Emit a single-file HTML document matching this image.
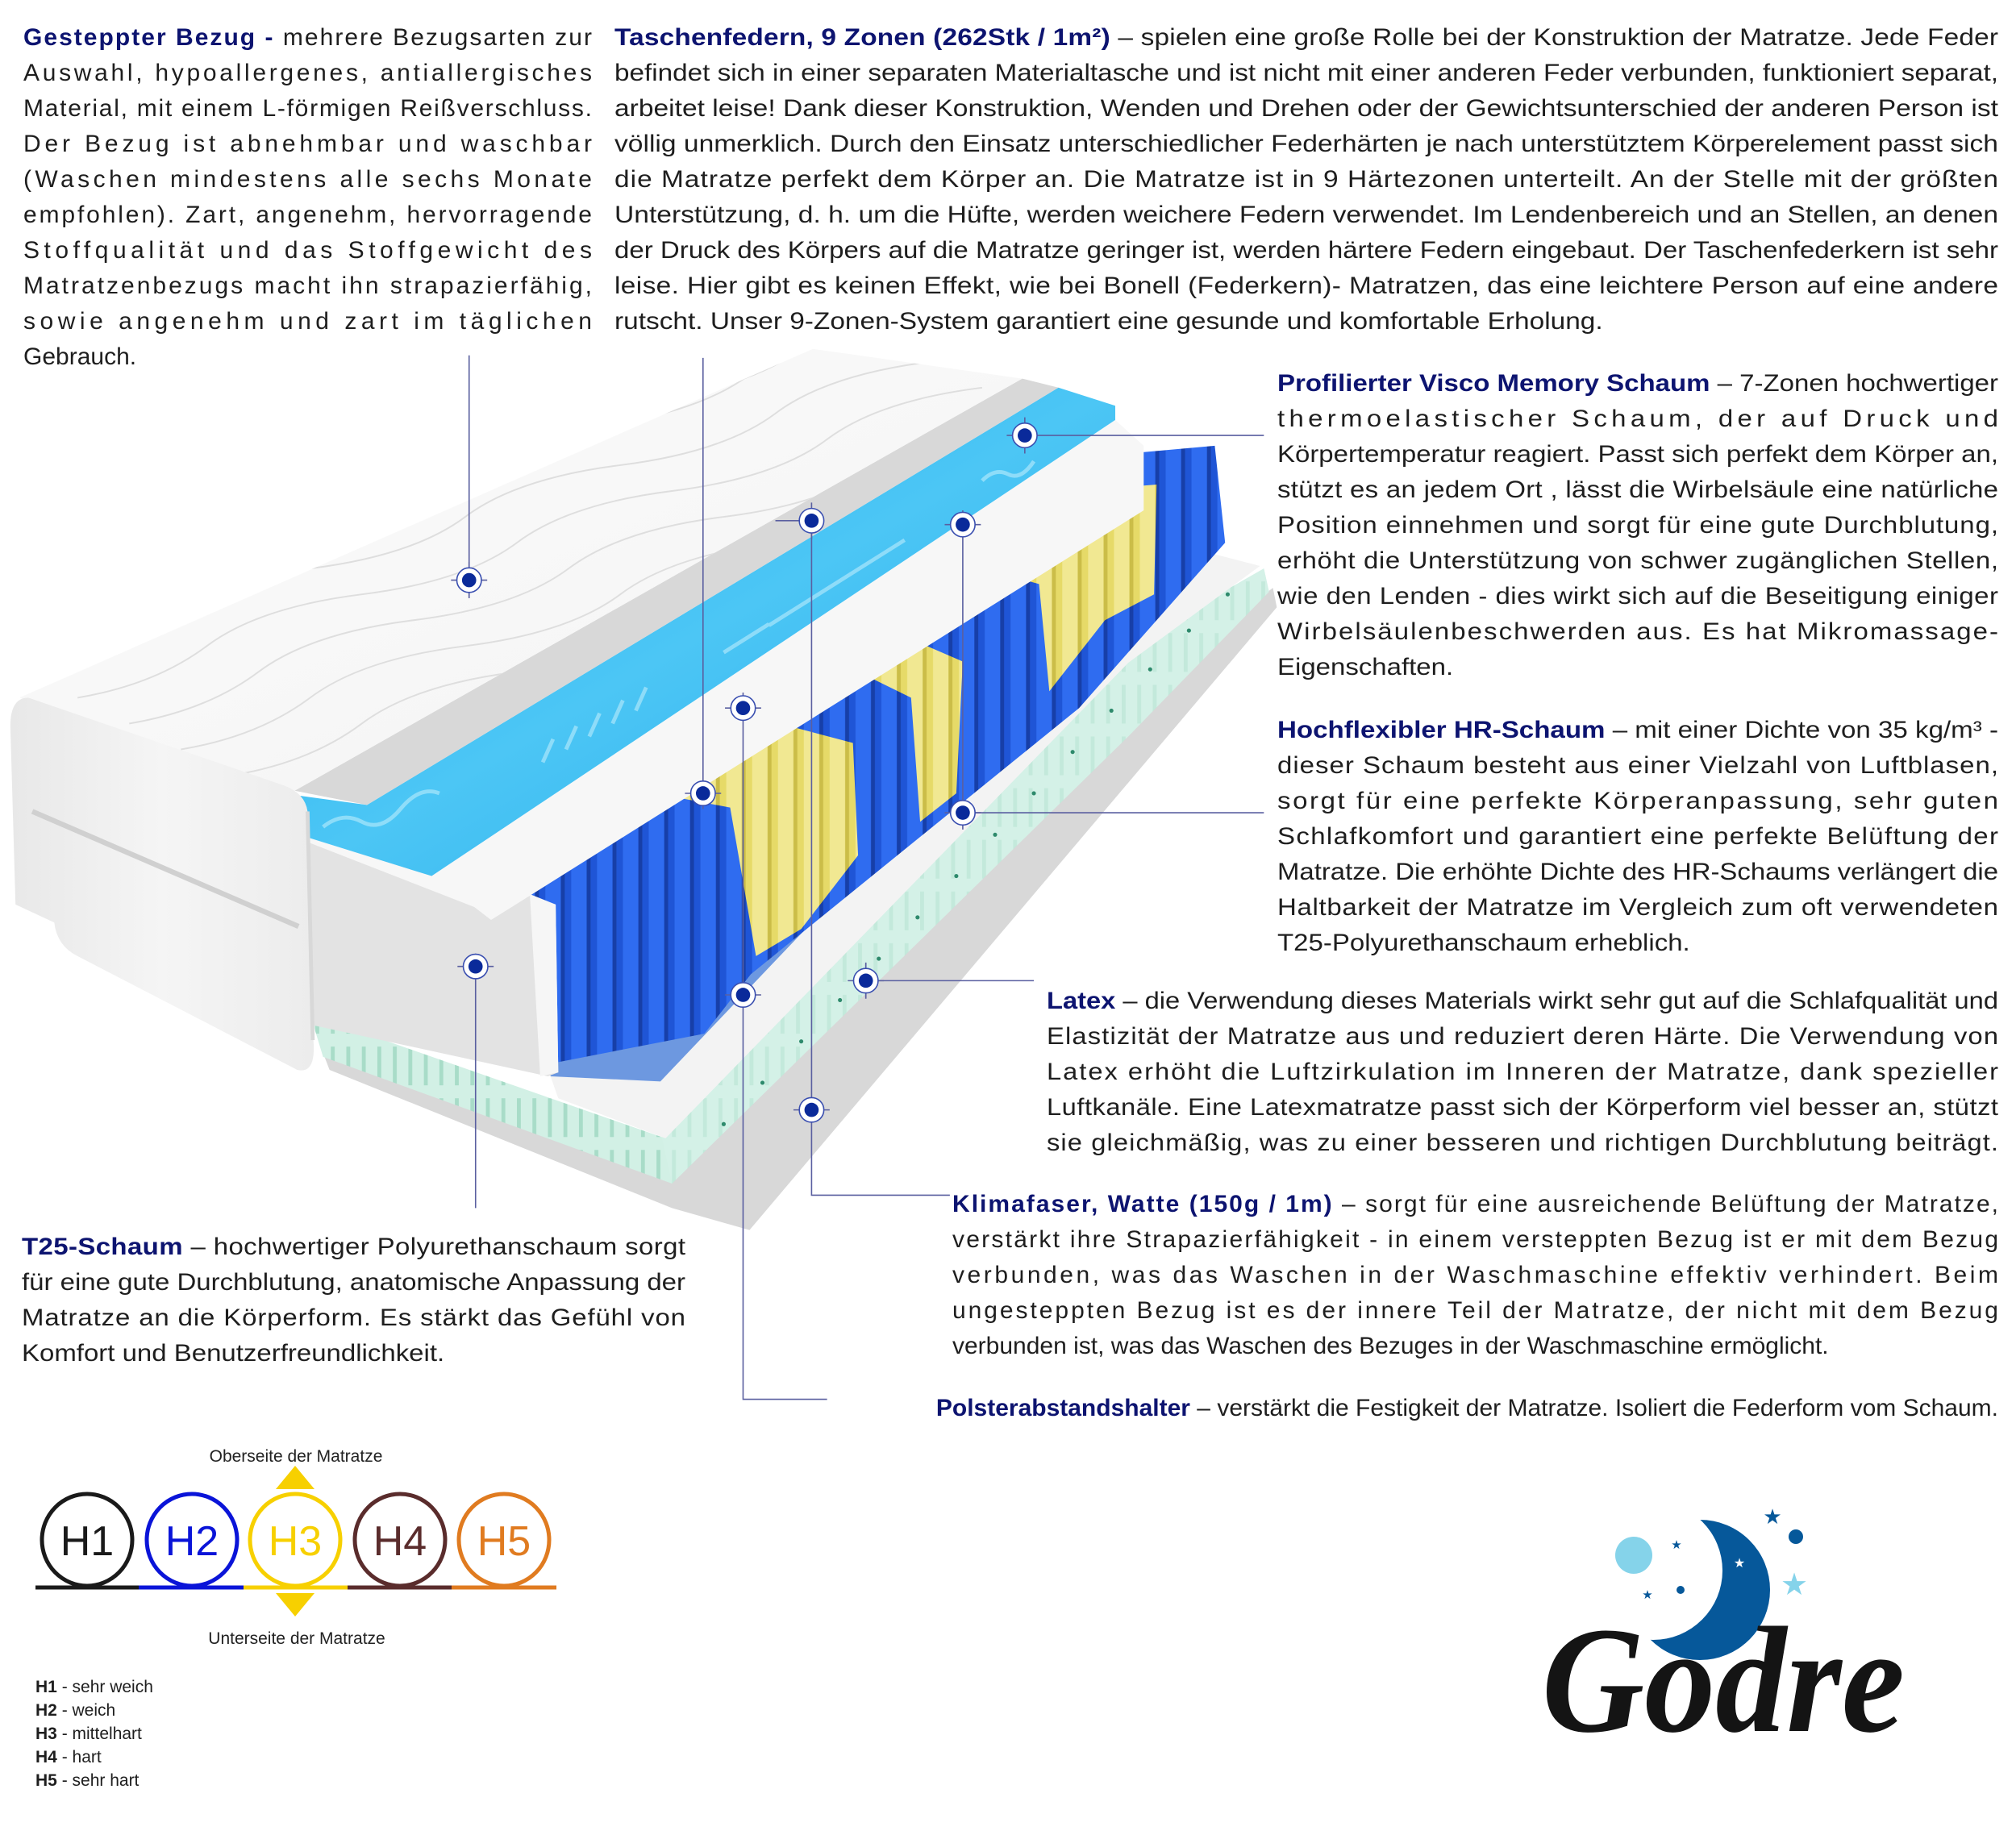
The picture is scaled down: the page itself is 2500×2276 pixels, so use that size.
<!DOCTYPE html>
<html><head><meta charset="utf-8">
<style>
*{margin:0;padding:0;box-sizing:border-box}
body{width:2500px;height:2276px;background:#fff;position:relative;overflow:hidden;font-family:"Liberation Sans",sans-serif;color:#1e1e1e}
.t{position:absolute;font-size:30px;line-height:44px}
.t div{height:44px;white-space:nowrap}
.t div span{display:inline-block;white-space:nowrap;transform-origin:0 50%}
.t b{color:#0d1470}
svg{position:absolute;left:0;top:0}
.leg{position:absolute;left:44px;font-size:21px;line-height:29px}
</style></head><body>
<svg width="2500" height="2276" viewBox="0 0 1560 1420.2">
<defs>
<linearGradient id="cov" x1="0" y1="0" x2="1" y2="1"><stop offset="0" stop-color="#fcfcfc"/><stop offset="1" stop-color="#f3f3f3"/></linearGradient>
<linearGradient id="end" x1="0" y1="0" x2="1" y2="0"><stop offset="0" stop-color="#e8e8e8"/><stop offset=".5" stop-color="#f5f5f5"/><stop offset="1" stop-color="#ececec"/></linearGradient>
<linearGradient id="vis" x1="0" y1="0" x2="1" y2="1"><stop offset="0" stop-color="#1fb0ef"/><stop offset=".5" stop-color="#4cc6f5"/><stop offset="1" stop-color="#22a8e8"/></linearGradient>
<pattern id="spr" width="20" height="40" patternUnits="userSpaceOnUse"><rect width="20" height="40" fill="#1f55d6"/><rect x="2" width="12" height="40" fill="#2f6cf0"/><rect x="14" width="3" height="40" fill="#173fa8"/></pattern>
<pattern id="yel" width="20" height="40" patternUnits="userSpaceOnUse"><rect width="20" height="40" fill="#e6da68"/><rect x="2" width="12" height="40" fill="#f1e892"/><rect x="14" width="3" height="40" fill="#cbbd48"/></pattern>
<pattern id="tee" width="12" height="40" patternUnits="userSpaceOnUse"><rect width="12" height="40" fill="#d2f0e5"/><rect x="4" y="10" width="3" height="30" fill="#a8dcc8"/></pattern>
<clipPath id="cc"><polygon points="15,540 629,270 791,293 228,612"/></clipPath>
</defs>
<!-- base -->
<polygon points="250,815 520,912 873,540 985,455 988,470 580,952 520,935 255,828" fill="#d8d8d8"/>
<!-- latex -->
<polygon points="240,785 512,880 873,500 978,440 982,458 873,570 520,916 250,818" fill="url(#tee)"/>
<polygon points="512,880 873,500 978,440 982,458 873,570 520,916" fill="#d6f1e7" opacity=".6"/>
<g fill="#2e8a6c"><circle cx="560" cy="870" r="1.6"/><circle cx="590" cy="838" r="1.6"/><circle cx="620" cy="806" r="1.6"/><circle cx="650" cy="774" r="1.6"/><circle cx="680" cy="742" r="1.6"/><circle cx="710" cy="710" r="1.6"/><circle cx="740" cy="678" r="1.6"/><circle cx="770" cy="646" r="1.6"/><circle cx="800" cy="614" r="1.6"/><circle cx="830" cy="582" r="1.6"/><circle cx="860" cy="550" r="1.6"/><circle cx="890" cy="518" r="1.6"/><circle cx="920" cy="488" r="1.6"/><circle cx="950" cy="460" r="1.6"/></g>
<!-- white foam -->
<polygon points="426,833 511,837 873,457 905,420 975,438 873,513 515,881 432,850" fill="#f3f3f3"/>
<!-- blue sheet -->
<polygon points="380,705 880,385 945,400 940,425 873,457 511,837 426,833 420,705" fill="#6d98e0"/>
<!-- springs -->
<polygon points="397,689 873,351 940,345 948,420 835,548 581,754 545,800 432,822 420,700" fill="url(#spr)"/>
<polygon points="507,614 577,553 660,575 664,662 620,719 585,740 565,625" fill="url(#yel)"/>
<polygon points="642,509 708,496 745,512 740,614 712,636 705,540" fill="url(#yel)"/>
<polygon points="743,435 809,382 895,375 893,460 855,480 812,535 804,452" fill="url(#yel)"/>
<!-- T25 block -->
<polygon points="231,649 395,688 430,700 432,830 424,833 240,793" fill="#e3e3e3"/>
<polygon points="410,692 430,700 432,830 418,833" fill="#f6f6f6"/>
<!-- white strip -->
<polygon points="228,645 334,678 863,325 885,345 885,395 380,712 367,702 231,649" fill="#f7f7f7"/>
<!-- visco -->
<polygon points="226,615 284,623 819,300 863,314 863,325 334,678 228,645" fill="url(#vis)"/>
<g stroke="#9fe2fa" stroke-width="3" fill="none" opacity=".8"><path d="M250,640 q15,-12 30,-4 t30,-10 t30,-12"/><path d="M420,590 l8,-18 M438,580 l8,-18 M456,570 l8,-18 M474,560 l8,-18 M492,550 l8,-18"/><path d="M560,505 l35,-22 M595,484 l35,-22 M630,462 l35,-22 M665,440 l35,-22"/><path d="M760,372 q10,-10 20,-5 t20,-10"/></g>
<!-- gray strip -->
<polygon points="228,612 791,293 819,300 284,623" fill="#d8d8d8"/>
<!-- cover top -->
<polygon points="15,540 629,270 791,293 228,612" fill="url(#cov)"/>
<g clip-path="url(#cc)" stroke="#dedede" stroke-width="1.2" fill="none">
<path d="M20,520 q60,-10 100,-40 t120,-40 t120,-40 t120,-40 t120,-40 t120,-40"/><path d="M60,540 q60,-10 100,-40 t120,-40 t120,-40 t120,-40 t120,-40 t120,-40"/><path d="M100,560 q60,-10 100,-40 t120,-40 t120,-40 t120,-40 t120,-40 t120,-40"/><path d="M140,580 q60,-10 100,-40 t120,-40 t120,-40 t120,-40 t120,-40 t120,-40"/><path d="M180,600 q60,-10 100,-40 t120,-40 t120,-40 t120,-40 t120,-40 t120,-40"/><path d="M0,490 q60,-10 100,-40 t120,-40 t120,-40 t120,-40 t120,-40 t120,-40"/><path d="M40,470 q60,-10 100,-40 t120,-40 t120,-40 t120,-40 t120,-40 t120,-40"/></g>
<!-- cover end face -->
<path d="M8,562 Q8,540 22,540 L220,608 Q236,614 238,628 L242,800 Q246,832 230,828 L60,740 Q44,732 42,714 L12,700 Z" fill="url(#end)"/>
<path d="M25,628 L231,717" stroke="#d0d0d0" stroke-width="4"/>
<path d="M238,628 L242,805" stroke="#d8d8d8" stroke-width="3"/>
<!-- connectors -->
<g stroke="#5a5fa0" stroke-width="1" fill="none">
<path d="M363,275 V462"/><path d="M544,277 V626"/><path d="M793,337 H978"/><path d="M628,393 V925 H735"/><path d="M745,395 V642"/><path d="M745,629 H978"/><path d="M575,536 V1083 H640"/><path d="M368,738 V935"/><path d="M670,746 V772 M670,759 H800"/>
</g>
<g stroke="#5a5fa0" stroke-width="1" fill="none">
<path d="M349,449 h28 M600,403 h28 M731,406 h28 M561,548 h28 M530,614 h28 M731,629 h28 M354,748 h28 M561,770 h28 M656,759 h28 M614,859 h28 M779,337 h14"/>
<path d="M628,389 v28 M793,323 v28 M363,435 v28 M670,745 v28"/>
</g>
<g fill="#fff" stroke="#3a4fb0" stroke-width="1">
<circle cx="363" cy="449" r="9.5"/><circle cx="793" cy="337" r="9.5"/><circle cx="628" cy="403" r="9.5"/><circle cx="745" cy="406" r="9.5"/><circle cx="575" cy="548" r="9.5"/><circle cx="544" cy="614" r="9.5"/><circle cx="745" cy="629" r="9.5"/><circle cx="368" cy="748" r="9.5"/><circle cx="575" cy="770" r="9.5"/><circle cx="670" cy="759" r="9.5"/><circle cx="628" cy="859" r="9.5"/>
</g>
<g fill="#0a2a9a">
<circle cx="363" cy="449" r="5.5"/><circle cx="793" cy="337" r="5.5"/><circle cx="628" cy="403" r="5.5"/><circle cx="745" cy="406" r="5.5"/><circle cx="575" cy="548" r="5.5"/><circle cx="544" cy="614" r="5.5"/><circle cx="745" cy="629" r="5.5"/><circle cx="368" cy="748" r="5.5"/><circle cx="575" cy="770" r="5.5"/><circle cx="670" cy="759" r="5.5"/><circle cx="628" cy="859" r="5.5"/>
</g>
</svg>
<svg width="2500" height="2276" viewBox="0 0 2500 2276">
<g fill="none" stroke-width="5">
<ellipse cx="108" cy="1910" rx="56" ry="57" stroke="#1a1a1a"/>
<ellipse cx="238" cy="1910" rx="56" ry="57" stroke="#0a14d8"/>
<ellipse cx="366" cy="1910" rx="56" ry="57" stroke="#f7d000"/>
<ellipse cx="496" cy="1910" rx="56" ry="57" stroke="#5a2c2c"/>
<ellipse cx="625" cy="1910" rx="56" ry="57" stroke="#e07b20"/>
<path d="M44,1969 H172" stroke="#1a1a1a"/><path d="M172,1969 H302" stroke="#0a14d8"/><path d="M302,1969 H431" stroke="#f7d000"/><path d="M431,1969 H560" stroke="#5a2c2c"/><path d="M560,1969 H690" stroke="#e07b20"/>
</g>
<polygon points="366,1818 342,1847 390,1847" fill="#f7d000"/>
<polygon points="342,1976 390,1976 366,2005" fill="#f7d000"/>
<g font-family="Liberation Sans" font-size="52" text-anchor="middle">
<text x="108" y="1929" fill="#1a1a1a">H1</text><text x="238" y="1929" fill="#0a14d8">H2</text><text x="366" y="1929" fill="#f7d000">H3</text><text x="496" y="1929" fill="#5a2c2c">H4</text><text x="625" y="1929" fill="#e07b20">H5</text>
</g>
<g font-family="Liberation Sans" font-size="21" text-anchor="middle" fill="#222">
<text x="367" y="1813">Oberseite der Matratze</text><text x="368" y="2039">Unterseite der Matratze</text>
</g>
<circle cx="2108" cy="1972" r="87" fill="#06589a"/>
<circle cx="2050" cy="1948" r="86" fill="#fff"/>
<circle cx="2026" cy="1929" r="23" fill="#85d3ea"/>
<circle cx="2227" cy="1906" r="9" fill="#06589a"/>
<circle cx="2084" cy="1972" r="5" fill="#06589a"/>
<g font-family="DejaVu Sans" text-anchor="middle">
<text x="2198" y="1890" font-size="26" fill="#06589a">★</text>
<text x="2225" y="1978" font-size="38" fill="#85d3ea">★</text>
<text x="2079" y="1921" font-size="15" fill="#06589a">★</text>
<text x="2043" y="1983" font-size="15" fill="#06589a">★</text>
<text x="2157" y="1944" font-size="16" fill="#fff">★</text>
</g>
<text x="1912" y="2147" font-family="Liberation Serif" font-weight="bold" font-style="italic" font-size="188" fill="#141414" textLength="450" lengthAdjust="spacingAndGlyphs">Godre</text>
</svg>

<div class="t" style="left:29px;top:25px;width:705px">
<div><b>Gesteppter Bezug -</b> mehrere Bezugsarten zur</div>
<div>Auswahl, hypoallergenes, antiallergisches</div>
<div>Material, mit einem L-förmigen Reißverschluss.</div>
<div>Der Bezug ist abnehmbar und waschbar</div>
<div>(Waschen mindestens alle sechs Monate</div>
<div>empfohlen). Zart, angenehm, hervorragende</div>
<div>Stoffqualität und das Stoffgewicht des</div>
<div>Matratzenbezugs macht ihn strapazierfähig,</div>
<div>sowie angenehm und zart im täglichen</div>
<div class="l">Gebrauch.</div>
</div>
<div class="t" style="left:762px;top:25px;width:1716px">
<div><b>Taschenfedern, 9 Zonen (262Stk / 1m²)</b> – spielen eine große Rolle bei der Konstruktion der Matratze. Jede Feder</div>
<div>befindet sich in einer separaten Materialtasche und ist nicht mit einer anderen Feder verbunden, funktioniert separat,</div>
<div>arbeitet leise! Dank dieser Konstruktion, Wenden und Drehen oder der Gewichtsunterschied der anderen Person ist</div>
<div>völlig unmerklich. Durch den Einsatz unterschiedlicher Federhärten je nach unterstütztem Körperelement passt sich</div>
<div>die Matratze perfekt dem Körper an. Die Matratze ist in 9 Härtezonen unterteilt. An der Stelle mit der größten</div>
<div>Unterstützung, d. h. um die Hüfte, werden weichere Federn verwendet. Im Lendenbereich und an Stellen, an denen</div>
<div>der Druck des Körpers auf die Matratze geringer ist, werden härtere Federn eingebaut. Der Taschenfederkern ist sehr</div>
<div>leise. Hier gibt es keinen Effekt, wie bei Bonell (Federkern)- Matratzen, das eine leichtere Person auf eine andere</div>
<div class="l">rutscht. Unser 9-Zonen-System garantiert eine gesunde und komfortable Erholung.</div>
</div>
<div class="t" style="left:1584px;top:454px;width:894px">
<div><b>Profilierter Visco Memory Schaum</b> – 7-Zonen hochwertiger</div>
<div>thermoelastischer Schaum, der auf Druck und</div>
<div>Körpertemperatur reagiert. Passt sich perfekt dem Körper an,</div>
<div>stützt es an jedem Ort , lässt die Wirbelsäule eine natürliche</div>
<div>Position einnehmen und sorgt für eine gute Durchblutung,</div>
<div>erhöht die Unterstützung von schwer zugänglichen Stellen,</div>
<div>wie den Lenden - dies wirkt sich auf die Beseitigung einiger</div>
<div>Wirbelsäulenbeschwerden aus. Es hat Mikromassage-</div>
<div class="l">Eigenschaften.</div>
</div>
<div class="t" style="left:1584px;top:884px;width:894px">
<div><b>Hochflexibler HR-Schaum</b> – mit einer Dichte von 35 kg/m³ -</div>
<div>dieser Schaum besteht aus einer Vielzahl von Luftblasen,</div>
<div>sorgt für eine perfekte Körperanpassung, sehr guten</div>
<div>Schlafkomfort und garantiert eine perfekte Belüftung der</div>
<div>Matratze. Die erhöhte Dichte des HR-Schaums verlängert die</div>
<div>Haltbarkeit der Matratze im Vergleich zum oft verwendeten</div>
<div class="l">T25-Polyurethanschaum erheblich.</div>
</div>
<div class="t" style="left:1298px;top:1220px;width:1180px">
<div><b>Latex</b> – die Verwendung dieses Materials wirkt sehr gut auf die Schlafqualität und</div>
<div>Elastizität der Matratze aus und reduziert deren Härte. Die Verwendung von</div>
<div>Latex erhöht die Luftzirkulation im Inneren der Matratze, dank spezieller</div>
<div>Luftkanäle. Eine Latexmatratze passt sich der Körperform viel besser an, stützt</div>
<div>sie gleichmäßig, was zu einer besseren und richtigen Durchblutung beiträgt.</div>
</div>
<div class="t" style="left:1181px;top:1472px;width:1297px">
<div><b>Klimafaser, Watte (150g / 1m)</b> – sorgt für eine ausreichende Belüftung der Matratze,</div>
<div>verstärkt ihre Strapazierfähigkeit - in einem versteppten Bezug ist er mit dem Bezug</div>
<div>verbunden, was das Waschen in der Waschmaschine effektiv verhindert. Beim</div>
<div>ungesteppten Bezug ist es der innere Teil der Matratze, der nicht mit dem Bezug</div>
<div class="l">verbunden ist, was das Waschen des Bezuges in der Waschmaschine ermöglicht.</div>
</div>
<div class="t" style="left:1037px;top:1725px;width:1441px">
<div class="r"><b>Polsterabstandshalter</b> – verstärkt die Festigkeit der Matratze. Isoliert die Federform vom Schaum.</div>
</div>
<div class="t" style="left:27px;top:1525px;width:823px">
<div><b>T25-Schaum</b> – hochwertiger Polyurethanschaum sorgt</div>
<div>für eine gute Durchblutung, anatomische Anpassung der</div>
<div>Matratze an die Körperform. Es stärkt das Gefühl von</div>
<div class="l">Komfort und Benutzerfreundlichkeit.</div>
</div>
<div class="leg" style="top:2078px"><b>H1</b> - sehr weich<br><b>H2</b> - weich<br><b>H3</b> - mittelhart<br><b>H4</b> - hart<br><b>H5</b> - sehr hart</div>
<script>
(function(){
var blocks=document.querySelectorAll('.t');
for(var i=0;i<blocks.length;i++){
 var b=blocks[i],W=parseFloat(b.style.width),lines=b.children,sc=[],info=[];
 for(var j=0;j<lines.length;j++){
  var d=lines[j],s=document.createElement('span');
  s.innerHTML=d.innerHTML;d.innerHTML='';d.appendChild(s);
  var w=s.getBoundingClientRect().width;info.push([d,s,w]);
  if(!d.classList.contains('l')&&!d.classList.contains('r')){var k=W/w;if(k<=1.12)sc.push(k);}
 }
 var avg=1;if(sc.length){avg=0;for(var q=0;q<sc.length;q++)avg+=sc[q];avg/=sc.length;}
 avg=Math.max(0.8,Math.min(1.12,avg));
 for(var j=0;j<info.length;j++){
  var d=info[j][0],s=info[j][1],w=info[j][2];
  if(d.classList.contains('l')){s.style.transform='scaleX('+avg+')';}
  else if(d.classList.contains('r')){var ww=w*avg;s.style.transform='scaleX('+avg+')';s.style.marginLeft=(W-ww)+'px';}
  else{var k=W/w;
   if(k<=1.12){s.style.transform='scaleX('+k+')';}
   else{s.style.transform='scaleX('+avg+')';var n=s.textContent.length;var ls=(W/avg-w)/Math.max(1,n-1);s.style.letterSpacing=ls+'px';}
  }
 }
}
})();
</script>
</body></html>
